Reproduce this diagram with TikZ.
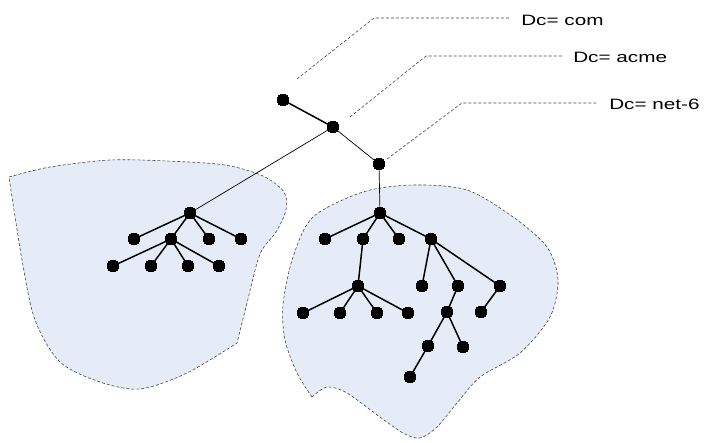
\documentclass[tikz,border=0pt]{standalone}
\usepackage{fontspec}
\setmainfont{Liberation Sans}
\usepackage{tikz}
\usepackage{tkz-graph}
\definecolor{blobfill}{RGB}{230,236,247}
\definecolor{leadgray}{RGB}{70,70,70}
\tikzset{
  blob/.style={draw=leadgray,fill=blobfill,line width=0.6pt,dash pattern=on 3pt off 2pt},
  leader/.style={draw=leadgray,line width=0.6pt,dash pattern=on 3pt off 2pt},
  dclabel/.style={anchor=base west,inner sep=0pt,xscale=1.38,font=\fontsize{15}{18}\selectfont}
}

\begin{document}
\begin{tikzpicture}[x=1pt,y=-1pt]
        \useasboundingbox (0,0) rectangle (704,443);
        % the two regions
        \draw[blob] (9,177) -- plot[smooth] coordinates {(9,177) (50,167) (110,160) (167,161) (225,165) (263,176) (284,192) (286,210) (276,232) (260,254) (247,303) (237,343)}
          -- plot[smooth] coordinates {(237,343) (187,373) (140,389) (100,382) (60,362) (35,320) (22,260) (9,177)} -- cycle;
        \draw[blob] (312,397) -- plot[smooth] coordinates {(312,397) (297,373) (285,340) (283,305) (293,257) (313,217) (363,192) (413,185) (467,190) (513,217) (547,247) (558,280) (550,317) (520,353) (480,377) (457,403) (437,427) (420,438) (403,433) (380,417) (347,393) (327,387) (312,397)} -- cycle;
        \GraphInit[vstyle=Normal]
        \SetVertexSimple[MinSize=11.5pt,FillColor=black,LineColor=black,LineWidth=0pt]
        \SetVertexNoLabel
        \SetUpEdge[lw=1.5pt,color=black]
        % top of the tree
        \Vertex[x=283,y=100]{com}
        \Vertex[x=333,y=127]{acme}
        \Vertex[x=379,y=164]{net6}
        % left tree
        \Vertex[x=190,y=213]{L0}
        \Vertex[x=134,y=239]{La}
        \Vertex[x=171,y=239]{Lb}
        \Vertex[x=209,y=239]{Lc}
        \Vertex[x=241,y=239]{Ld}
        \Vertex[x=113,y=266]{Lb1}
        \Vertex[x=151,y=266]{Lb2}
        \Vertex[x=188,y=266]{Lb3}
        \Vertex[x=219,y=266]{Lb4}
        % right tree
        \Vertex[x=380,y=213]{R0}
        \Vertex[x=325,y=239]{Ra}
        \Vertex[x=363,y=239]{Rb}
        \Vertex[x=399,y=239]{Rc}
        \Vertex[x=431,y=239]{Rd}
        \Vertex[x=358,y=286]{Rb0}
        \Vertex[x=303,y=313]{Rb1}
        \Vertex[x=340,y=313]{Rb2}
        \Vertex[x=377,y=313]{Rb3}
        \Vertex[x=408,y=313]{Rb4}
        \Vertex[x=422,y=286]{Rd1}
        \Vertex[x=458,y=286]{Rd2}
        \Vertex[x=500,y=286]{Rd3}
        \Vertex[x=447,y=312]{Rd2a}
        \Vertex[x=428,y=346]{Rd2b}
        \Vertex[x=463,y=347]{Rd2c}
        \Vertex[x=410,y=377]{Rd2d}
        \Vertex[x=481,y=312]{Rd3a}
        \Edge(com)(acme)
        \Edge[style={line width=0.7pt}](acme)(net6)
        \Edge[style={line width=0.7pt}](acme)(L0)
        \Edge[style={line width=0.7pt}](net6)(R0)
        \Edge(L0)(La)
        \Edge(L0)(Lb)
        \Edge(L0)(Lc)
        \Edge(L0)(Ld)
        \Edge(Lb)(Lb1)
        \Edge(Lb)(Lb2)
        \Edge(Lb)(Lb3)
        \Edge(Lb)(Lb4)
        \Edge(R0)(Ra)
        \Edge(R0)(Rb)
        \Edge(R0)(Rc)
        \Edge(R0)(Rd)
        \Edge(Rb)(Rb0)
        \Edge(Rb0)(Rb1)
        \Edge(Rb0)(Rb2)
        \Edge(Rb0)(Rb3)
        \Edge(Rb0)(Rb4)
        \Edge(Rd)(Rd1)
        \Edge(Rd)(Rd2)
        \Edge(Rd)(Rd3)
        \Edge(Rd2)(Rd2a)
        \Edge(Rd2a)(Rd2b)
        \Edge(Rd2a)(Rd2c)
        \Edge(Rd2b)(Rd2d)
        \Edge(Rd3)(Rd3a)
        % domain labels
        \node[dclabel] (comlabel) at (521,26) {Dc= com};
        \node[dclabel] (acmelabel) at (573,63) {Dc= acme};
        \node[dclabel] (netlabel) at (609,110) {Dc= net-6};
        \coordinate (comtip) at (297,79);
        \coordinate (acmetip) at (350,117);
        \coordinate (nettip) at (387,159);
        \draw[leader] (comtip) -- (374,18) -- (510,18);
        \draw[leader] (acmetip) -- (426,56) -- (563,56);
        \draw[leader] (nettip) -- (462,103) -- (597,103);
\end{tikzpicture}
\end{document}
